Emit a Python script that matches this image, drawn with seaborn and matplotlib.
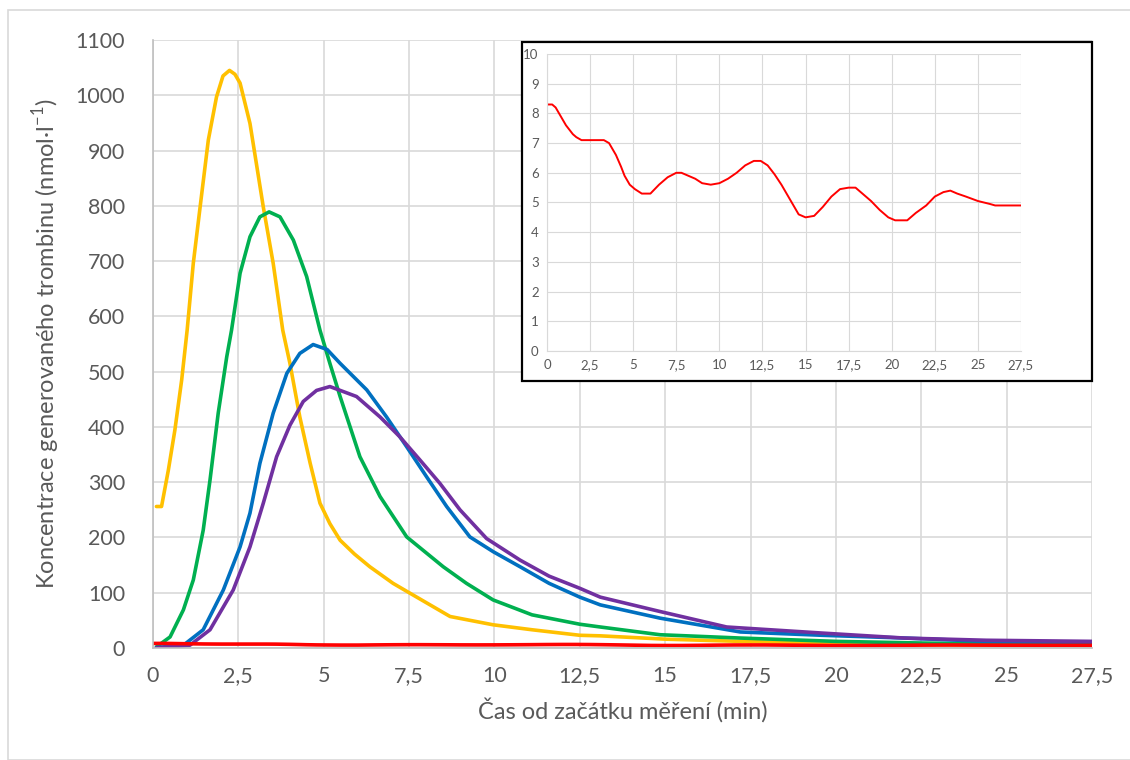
import numpy as np
import pandas as pd
import matplotlib
matplotlib.use("Agg")
import matplotlib.pyplot as plt
from matplotlib.patches import Rectangle
import seaborn as sns

# thrombin generation curves (time in min, concentration in nmol/l)
yellow_t = [0.1, 0.25, 0.45, 0.64, 0.84, 1.0, 1.18, 1.38, 1.62, 1.86, 2.05, 2.24, 2.4, 2.55,
            2.84, 3.23, 3.52, 3.8, 4.01, 4.3, 4.6, 4.89, 5.18, 5.48, 5.9, 6.35, 7.03, 7.53,
            8.7, 9.96, 11.1, 12.5, 13.1, 15.0, 17.2, 20.0, 22.5, 25.0, 27.5]
yellow_v = [256, 256, 322, 394, 485, 575, 696, 798, 919, 997, 1035, 1045, 1038, 1022,
            949, 798, 696, 575, 515, 418, 335, 262, 225, 195, 170, 147, 117, 99,
            57, 42, 33, 23, 22, 16, 12, 8, 6, 5, 5]

green_t = [0.1, 0.5, 0.89, 1.18, 1.47, 1.67, 1.91, 2.16, 2.3, 2.55, 2.84, 3.13, 3.4, 3.72,
           4.11, 4.5, 4.89, 5.18, 5.48, 6.06, 6.65, 7.43, 8.5, 9.18, 9.96, 11.1, 12.5,
           13.1, 14.85, 17.2, 20.0, 22.5, 25.0, 27.5]
green_v = [2, 20, 69, 123, 213, 304, 425, 527, 575, 678, 744, 780, 789, 780,
           738, 672, 575, 515, 455, 346, 274, 201, 147, 117, 87, 60, 43,
           38, 24, 18, 12, 9, 7, 6]

blue_t = [0.1, 0.89, 1.47, 2.06, 2.55, 2.84, 3.13, 3.52, 3.92, 4.3, 4.69, 5.1, 5.48, 6.26,
          6.84, 7.43, 8.01, 8.6, 9.28, 9.97, 10.75, 11.6, 12.5, 13.1, 14.85, 17.2, 19.6,
          22.0, 24.4, 27.5]
blue_v = [1, 5, 33, 105, 183, 244, 334, 425, 497, 533, 549, 540, 515, 467,
          418, 364, 310, 256, 201, 174, 147, 117, 92, 78, 54, 29, 23,
          18, 12, 10]

purple_t = [0.1, 1.08, 1.67, 2.35, 2.84, 3.23, 3.62, 4.01, 4.4, 4.79, 5.18, 5.96, 6.65,
            7.23, 7.82, 8.4, 8.99, 9.77, 10.75, 11.6, 12.5, 13.1, 14.85, 16.8, 19.6, 22.0,
            24.4, 27.5]
purple_v = [0, 5, 33, 105, 183, 262, 346, 403, 446, 466, 473, 455, 418,
            382, 340, 298, 250, 198, 159, 130, 108, 92, 66, 38, 27, 18,
            14, 12]

red_t = [0.0, 0.3, 0.5, 0.8, 1.1, 1.5, 1.7, 2.0, 2.5, 3.0, 3.3, 3.6, 4.0, 4.3, 4.5, 4.8,
         5.1, 5.5, 6.0, 6.5, 7.0, 7.5, 7.8, 8.2, 8.6, 9.0, 9.5, 10.0, 10.5, 11.0, 11.5,
         12.0, 12.4, 12.8, 13.2, 13.6, 14.2, 14.6, 15.0, 15.5, 16.0, 16.5, 17.0, 17.5,
         17.9, 18.3, 18.8, 19.3, 19.8, 20.2, 20.9, 21.4, 22.0, 22.5, 23.0, 23.4, 23.8,
         24.3, 25.0, 25.7, 26.0, 27.5]
red_v = [8.3, 8.3, 8.2, 7.9, 7.6, 7.3, 7.2, 7.1, 7.1, 7.1, 7.1, 7.0, 6.6, 6.2, 5.9, 5.6,
         5.45, 5.3, 5.3, 5.6, 5.85, 6.0, 6.0, 5.9, 5.8, 5.65, 5.6, 5.65, 5.8, 6.0, 6.25,
         6.4, 6.4, 6.25, 5.95, 5.6, 5.0, 4.6, 4.5, 4.55, 4.85, 5.2, 5.45, 5.5,
         5.5, 5.3, 5.05, 4.75, 4.5, 4.4, 4.4, 4.65, 4.9, 5.2, 5.35, 5.4, 5.3,
         5.2, 5.05, 4.95, 4.9, 4.9]

x_ticks = np.arange(0, 27.6, 2.5)
x_labels = ["0", "2,5", "5", "7,5", "10", "12,5", "15", "17,5", "20", "22,5", "25", "27,5"]

series = [
    ("yellow", yellow_t, yellow_v, "#FFC000"),
    ("green", green_t, green_v, "#00B050"),
    ("blue", blue_t, blue_v, "#0070C0"),
    ("purple", purple_t, purple_v, "#7030A0"),
    ("red", red_t, red_v, "#FF0000"),
]

sns.set_style("white")
plt.rcParams["font.family"] = ["Lato", "DejaVu Sans"]
plt.rcParams["mathtext.fontset"] = "custom"
plt.rcParams["mathtext.rm"] = "Lato"
text_col = "#595959"
grid_col = "#D9D9D9"

W, H = 1130, 760
fig = plt.figure(figsize=(W / 100, H / 100), dpi=100)

# chart area border
fig.patches.append(Rectangle((8 / W, 0), 1.2, 1 - 10 / H, transform=fig.transFigure,
                             fill=False, edgecolor="#D9D9D9", linewidth=1.2))

ax = fig.add_axes([153 / W, 1 - 648 / H, (1092 - 153) / W, (648 - 40) / H])
for name, t, v, col in series:
    sns.lineplot(x=t, y=v, ax=ax, color=col, linewidth=2.6, estimator=None, sort=False)

ax.set_xlim(0, 27.5)
ax.set_ylim(0, 1100)
ax.set_xticks(x_ticks)
ax.set_xticklabels(x_labels)
ax.set_yticks(np.arange(0, 1101, 100))
ax.grid(True, color=grid_col, linewidth=1.2)
ax.set_axisbelow(True)
for s in ["top", "right"]:
    ax.spines[s].set_visible(False)
for s in ["left", "bottom"]:
    ax.spines[s].set_color("#BFBFBF")
    ax.spines[s].set_linewidth(1.2)
ax.tick_params(colors=text_col, labelsize=15.5, length=0, pad=13)
ax.tick_params(axis="y", pad=20)
ax.set_xlabel("Čas od začátku měření (min)", fontsize=17, color=text_col, labelpad=8)
ax.set_ylabel("Koncentrace generovaného trombinu (nmol·l$^{\\mathrm{-1}}$)", fontsize=17,
              color=text_col, labelpad=10)

# inset with the red curve
fig.patches.append(Rectangle((522 / W, 1 - 381 / H), (1092 - 522) / W, (381 - 42) / H,
                             transform=fig.transFigure, facecolor="white",
                             edgecolor="black", linewidth=1.6, zorder=5))
axin = fig.add_axes([547 / W, 1 - 351 / H, (1021 - 547) / W, (351 - 54) / H], zorder=6)
sns.lineplot(x=red_t, y=red_v, ax=axin, color="#FF0000", linewidth=1.4,
             estimator=None, sort=False)
axin.set_xlim(0, 27.5)
axin.set_ylim(0, 10)
axin.set_xticks(x_ticks)
axin.set_xticklabels(x_labels)
axin.set_yticks(np.arange(0, 11, 1))
axin.grid(True, color=grid_col, linewidth=0.8)
axin.set_axisbelow(True)
for s in ["top", "right"]:
    axin.spines[s].set_visible(False)
for s in ["left", "bottom"]:
    axin.spines[s].set_color("#D9D9D9")
    axin.spines[s].set_linewidth(0.8)
axin.tick_params(colors=text_col, labelsize=9.5, length=0, pad=6)

fig.savefig("out.png", dpi=100)
